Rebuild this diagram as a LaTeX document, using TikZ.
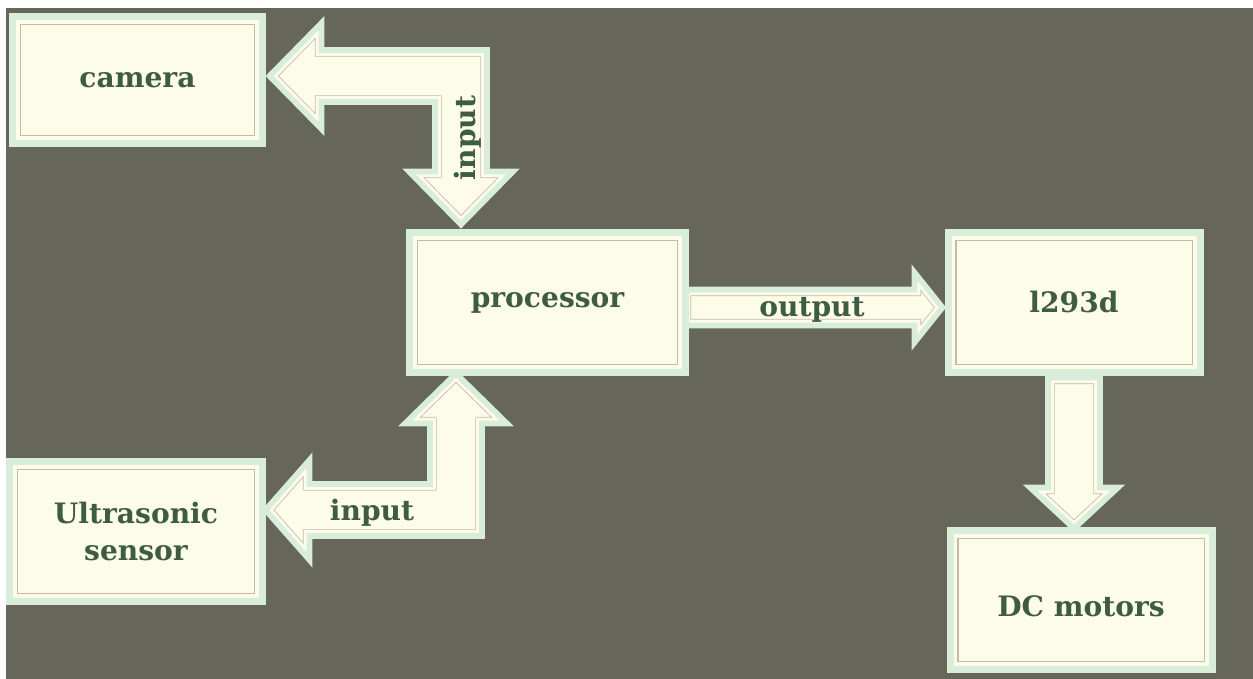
\documentclass[tikz,border=0pt]{standalone}
\usepackage{fontspec}
\newfontfamily\slabfont{DejaVu Serif}
\usetikzlibrary{calc}

\definecolor{slate}{HTML}{66665A}
\definecolor{cream}{HTML}{FDFCE9}
\definecolor{rim}{HTML}{D8EDDA}
\definecolor{seam}{HTML}{C6B9AE}
\definecolor{ink}{HTML}{3D5C42}

\pgfdeclarelayer{canvas}
\pgfdeclarelayer{pipes}
\pgfsetlayers{canvas,pipes,main}

\tikzset{
  blockbox/.style={draw=rim, line width=0.21cm, fill=cream, inner sep=0pt,
    font=\slabfont\bfseries\fontsize{24}{31}\selectfont, text=ink, align=center,
    path picture={
      \draw[seam, line width=0.51cm] (path picture bounding box.south west)
        rectangle (path picture bounding box.north east);
      \draw[cream, line width=0.42cm] (path picture bounding box.south west)
        rectangle (path picture bounding box.north east);
    }},
  tag/.style={font=\slabfont\bfseries\fontsize{24}{30}\selectfont, text=ink, inner sep=1pt},
}

% thick block arrow: filled body, thin seam inside, light rim
\newcommand\fatarrow[1]{%
  \fill[cream] #1;
  \begin{scope}
    \clip #1;
    \draw[seam, line width=0.40cm, line join=miter] #1;
    \draw[cream, line width=0.35cm, line join=miter] #1;
  \end{scope}
  \draw[rim, line width=0.17cm, line join=miter] #1;
}

\begin{document}
\begin{tikzpicture}[x=0.03cm, y=-0.03cm]
	\useasboundingbox (0,0) rectangle (1253,679);
	\begin{pgfonlayer}{canvas}
	\fill[white] (0,0) rectangle (1253,679);
	\fill[slate] (6,8) rectangle (1253,679);
	\end{pgfonlayer}

	% blocks
	\node[blockbox, minimum width=7.47cm, minimum height=3.78cm] (cam) at (137.5,80) {camera};
	\node[blockbox, minimum width=8.25cm, minimum height=4.17cm] (proc) at (547.5,302.5) {processor};
	\node[blockbox, minimum width=7.56cm, minimum height=4.17cm] (drv) at (1074,302.5) {l293d};
	\node[blockbox, minimum width=7.56cm, minimum height=4.17cm] (son) at (136,531.5) {Ultrasonic\\sensor};
	\node[blockbox, minimum width=7.86cm, minimum height=4.14cm, text height=29pt] (mot) at (1081,600) {DC motors};

	\coordinate (camjoint) at (461,76);
	\coordinate (sonjoint) at (456,510);

	\begin{pgfonlayer}{pipes}
	% camera <-> processor
	\fatarrow{($(cam.east |- camjoint)+(4,0)$) -- ++(52,-53) -- ++(0,27)
	   -- ($(camjoint)+(26,-26)$) -- ($(camjoint |- proc.north)+(26,-58)$)
	   -- ++(26,0) -- ($(camjoint |- proc.north)+(0,-5)$) -- ++(-52,-53)
	   -- ++(26,0) -- ($(camjoint)+(-26,26)$) -- ($(cam.east |- camjoint)+(56,26)$)
	   -- ++(0,27) -- cycle}

	% ultrasonic <-> processor
	\fatarrow{(son.east |- sonjoint) -- ++(44,-50) -- ++(0,24)
	   -- ($(sonjoint)+(-26,-26)$) -- ($(sonjoint |- proc.south)+(-26,48)$)
	   -- ++(-25,0) -- ($(sonjoint |- proc.south)+(0,-2)$) -- ++(51,50)
	   -- ++(-25,0) -- ($(sonjoint)+(26,26)$) -- ($(son.east |- sonjoint)+(44,26)$)
	   -- ++(0,24) -- cycle}

	% processor -> driver
	\fatarrow{($(proc.east)+(-4,-13)$) -- ($(drv.west)+(-30,-13)$) -- ++(0,-17)
	   -- ($(drv.west)+(-2,5)$) -- ($(drv.west)+(-30,40)$) -- ++(0,-17)
	   -- ($(proc.east)+(-4,23)$) -- cycle}

	% driver -> motors
	\fatarrow{($(drv.south)+(-26,2)$) -- ($(drv.south |- mot.north)+(-26,-40)$)
	   -- ++(-18,0) -- ($(drv.south |- mot.north)+(0,1)$) -- ($(drv.south |- mot.north)+(44,-40)$)
	   -- ++(-18,0) -- ($(drv.south)+(26,2)$) -- cycle}
	\end{pgfonlayer}

	% arrow labels
	\node[tag, rotate=90] (camin) at (468,138) {input};
	\node[tag] (sonin) at (372,513) {input};
	\node[tag] (procout) at (812,310) {output};
\end{tikzpicture}
\end{document}
